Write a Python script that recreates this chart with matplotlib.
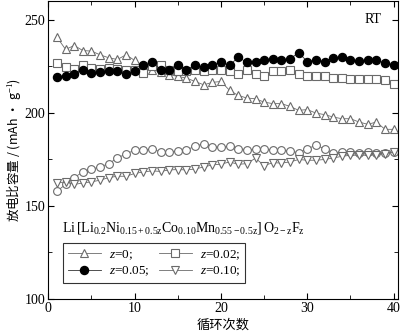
import matplotlib
matplotlib.use('Agg')
import matplotlib.pyplot as plt

plt.rcParams['font.family'] = ['Liberation Serif', 'Noto Sans CJK SC']
plt.rcParams['mathtext.fontset'] = 'custom'
plt.rcParams['mathtext.rm'] = 'Liberation Serif'
plt.rcParams['mathtext.it'] = 'Liberation Serif:italic'

cycles = list(range(1, 41))

cap_z000 = [240.6, 234.0, 236.1, 233.4, 233.1, 231.1, 229.5, 228.6, 231.1, 228.1,
            225.0, 223.0, 222.0, 220.5, 219.5, 218.6, 216.8, 215.0, 216.3, 216.8,
            212.0, 209.3, 207.9, 207.5, 205.7, 204.9, 204.9, 203.4, 201.3, 201.7,
            199.8, 199.0, 197.7, 196.8, 196.8, 195.0, 193.8, 195.0, 191.1, 191.1]
cap_z002 = [226.6, 224.5, 223.3, 225.4, 224.0, 223.6, 224.0, 223.6, 223.1, 222.7,
            221.3, 224.9, 225.8, 222.7, 222.2, 222.3, 222.7, 222.3, 222.7, 223.2,
            222.2, 220.8, 223.2, 220.8, 220.0, 222.2, 222.2, 222.7, 220.6, 220.0,
            220.0, 219.5, 218.8, 218.6, 218.3, 218.3, 218.3, 217.9, 217.4, 215.6]
cap_z005 = [219.2, 220.0, 221.0, 223.1, 221.3, 221.8, 222.3, 222.2, 220.6, 222.2,
            225.8, 227.5, 223.1, 223.1, 225.4, 223.1, 225.4, 224.4, 225.9, 227.2,
            225.4, 229.9, 227.0, 227.5, 228.5, 229.0, 228.4, 229.0, 232.2, 227.5,
            228.4, 227.5, 229.3, 230.2, 228.4, 227.7, 228.1, 228.1, 226.8, 225.8]
cap_other = [157.9, 161.5, 165.2, 168.2, 169.7, 170.9, 172.7, 175.7, 177.9, 179.9,
             179.9, 180.4, 179.1, 179.1, 179.4, 179.9, 182.2, 183.2, 181.8, 181.4,
             182.0, 180.7, 180.2, 180.4, 180.4, 179.9, 179.9, 179.3, 178.6, 180.7,
             182.5, 180.7, 178.4, 178.9, 178.9, 178.6, 178.9, 178.6, 178.4, 178.9]
cap_z010 = [162.3, 162.9, 161.5, 162.3, 162.9, 163.8, 165.2, 165.9, 165.9, 167.4,
            168.2, 168.8, 168.5, 169.3, 169.5, 169.3, 169.8, 170.9, 172.0, 172.4,
            173.6, 172.3, 172.7, 175.6, 171.6, 173.2, 173.0, 173.6, 174.9, 174.5,
            174.5, 174.9, 175.7, 176.6, 177.2, 177.2, 177.2, 177.5, 178.1, 178.9]

gray = '#6a6a6a'

fig = plt.figure(figsize=(4.04, 3.34), dpi=100)
ax = fig.add_axes([0.1196, 0.1048, 0.8654, 0.8922])

kw = dict(color=gray, lw=0.6, mfc='white', mec=gray, mew=0.8)
l0, = ax.plot(cycles, cap_z000, marker='^', ms=6.4, label='$z$=0;', **kw)
l2, = ax.plot(cycles, cap_z002, marker='s', ms=5.2, label='$z$=0.02;', **kw)
ax.plot(cycles, cap_other, marker='o', ms=5.6, **kw)
l10, = ax.plot(cycles, cap_z010, marker='v', ms=6.4, label='$z$=0.10;', **kw)
l5, = ax.plot(cycles, cap_z005, marker='o', ms=5.8, color='#333333', lw=0.6,
              mfc='black', mec='black', label='$z$=0.05;')

ax.set_xlim(0, 40.5)
ax.set_ylim(100, 260)
ax.set_xticks([0, 10, 20, 30, 40])
ax.set_xticks([5, 15, 25, 35], minor=True)
ax.set_yticks([100, 150, 200, 250])
ax.set_yticks([125, 175, 225], minor=True)
ax.tick_params(which='both', direction='in', top=True, right=True, labelsize=10,
               pad=2)
ax.tick_params(which='major', length=4)
ax.tick_params(which='minor', length=3)

ax.set_xlabel('循环次数', family=['Noto Sans CJK SC'], fontsize=9.5, labelpad=3)
ax.set_ylabel('放电比容量 / (mAh · g$^{-1}$)', family=['Noto Sans CJK SC', 'DejaVu Sans'],
              fontsize=9, labelpad=1)

ax.text(0.905, 0.925, 'RT', transform=ax.transAxes, fontsize=10)
ax.text(0.04, 0.225,
        r'$\mathrm{Li\,[Li_{0.2}Ni_{0.15+0.5z}Co_{0.10}Mn_{0.55-0.5z}]\,O_{2-z}F_z}$',
        transform=ax.transAxes, fontsize=10)

leg = ax.legend(handles=[l0, l5, l2, l10], ncol=2, loc='lower left',
                bbox_to_anchor=(0.035, 0.045), fontsize=9.5, frameon=True,
                fancybox=False, edgecolor='black', handlelength=2.5,
                handletextpad=0.6, columnspacing=0.7, borderpad=0.35,
                labelspacing=0.25, borderaxespad=0.2)
leg.get_frame().set_linewidth(0.8)

fig.savefig('out.png', dpi=100)
